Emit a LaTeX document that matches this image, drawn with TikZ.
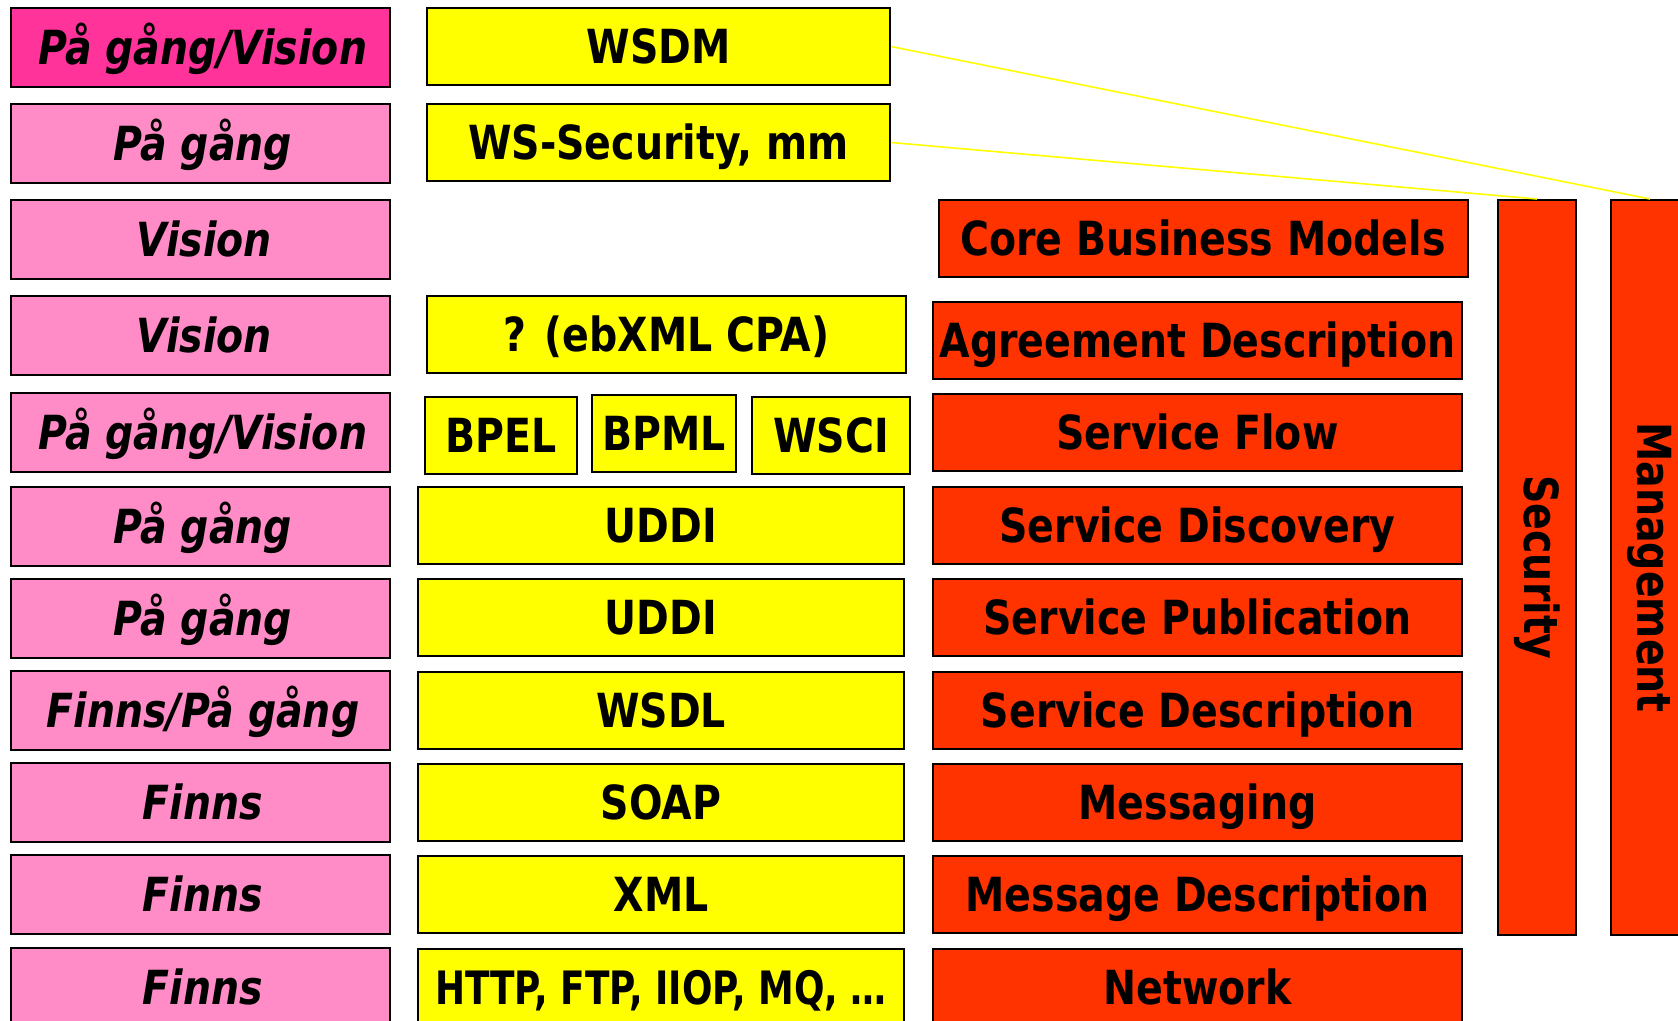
\documentclass[tikz,border=0pt]{standalone}
\usepackage{fontspec}
\newfontfamily\lblfont{DejaVu Sans}[FakeStretch=0.84]
\newfontfamily\lblfontnarrow{DejaVu Sans}[FakeStretch=0.78]
\definecolor{pinkdark}{HTML}{FF3399}
\definecolor{pinklight}{HTML}{FF8CC6}
\definecolor{yel}{HTML}{FFFF00}
\definecolor{org}{HTML}{FF3300}
\tikzset{
  box/.style={draw=black, line width=2pt, inner sep=0pt, align=center,
    font=\lblfont\bfseries\fontsize{47}{47}\selectfont,
    text height=34pt, text depth=0pt},
  pinkbox/.style={box, fill=pinklight, minimum width=379pt, minimum height=79pt,
    font=\lblfont\bfseries\itshape\fontsize{47}{47}\selectfont},
  pinkboxdark/.style={pinkbox, fill=pinkdark},
  yelbox/.style={box, fill=yel, minimum height=77pt},
  orgbox/.style={box, fill=org, minimum height=77pt, minimum width=529pt},
  vbox/.style={draw=black, line width=2pt, fill=org, minimum width=78pt, minimum height=735pt, inner sep=0pt},
  vtext/.style={rotate=-90, font=\lblfont\bfseries\fontsize{47}{47}\selectfont, inner sep=0pt},
  link/.style={draw=yel, line width=1.6pt}
}
\begin{document}
\begin{tikzpicture}[x=1pt, y=-1pt]
\useasboundingbox (0,0) rectangle (1678,1020);
\clip (0,0) rectangle (1678,1020);
% status column
\node[pinkboxdark] (p1) at (200,47.5) {\kern6pt På gång/Vision};
\node[pinkbox] (p2) at (200,143.5) {\kern6pt På gång};
\node[pinkbox] (p3) at (200,239) {\kern8pt Vision};
\node[pinkbox] (p4) at (200,335) {\kern8pt Vision};
\node[pinkbox] (p5) at (200,432) {\kern6pt På gång/Vision};
\node[pinkbox] (p6) at (200,526.5) {\kern6pt På gång};
\node[pinkbox] (p7) at (200,618.5) {\kern6pt På gång};
\node[pinkbox] (p8) at (200,710.5) {\kern6pt Finns/På gång};
\node[pinkbox] (p9) at (200,802.5) {\kern6pt Finns};
\node[pinkbox] (p10) at (200,894.5) {\kern6pt Finns};
\node[pinkbox] (p11) at (200,987.5) {\kern6pt Finns};
% standards column
\node[yelbox, minimum width=463pt] (wsdm) at (658.5,46.5) {WSDM};
\node[yelbox, minimum width=463pt] (wssec) at (658.5,142.5) {WS-Security, mm};
\node[yelbox, minimum width=479pt] (ebxml) at (666.5,334.5) {? (ebXML CPA)};
\node[yelbox, minimum width=152pt] (bpel) at (501,435.5) {BPEL};
\node[yelbox, minimum width=144pt] (bpml) at (664,433.5) {BPML};
\node[yelbox, minimum width=158pt] (wsci) at (831,435.5) {WSCI};
\node[yelbox, minimum width=486pt] (uddi1) at (661,525.5) {UDDI};
\node[yelbox, minimum width=486pt] (uddi2) at (661,617.5) {UDDI};
\node[yelbox, minimum width=486pt] (wsdl) at (661,710) {WSDL};
\node[yelbox, minimum width=486pt] (soap) at (661,802) {SOAP};
\node[yelbox, minimum width=486pt] (xml) at (661,894.5) {XML};
\node[yelbox, minimum width=486pt, font=\lblfontnarrow\bfseries\fontsize{46}{46}\selectfont] (http) at (661,987) {HTTP, FTP, IIOP, MQ, \dots};
% layers column
\node[orgbox] (core) at (1203,238.5) {Core Business Models};
\node[orgbox] (agree) at (1197.5,340) {Agreement Description};
\node[orgbox] (flow) at (1197.5,432.5) {Service Flow};
\node[orgbox] (disc) at (1197.5,525.5) {Service Discovery};
\node[orgbox] (publ) at (1197.5,617.5) {Service Publication};
\node[orgbox] (desc) at (1197.5,710) {Service Description};
\node[orgbox] (msg) at (1197.5,802) {Messaging};
\node[orgbox] (msgd) at (1197.5,894.5) {Message Description};
\node[orgbox] (net) at (1197.5,987) {Network};
% vertical columns
\node[vbox] (sec) at (1537,567.5) {};
\node[vtext] at (sec.center) {Security};
\node[vbox] (mgmt) at (1650,567.5) {};
\node[vtext] at (mgmt.center) {Management};
% connectors
\draw[link] (wsdm.east) -- (mgmt.north);
\draw[link] (wssec.east) -- (sec.north);
\end{tikzpicture}
\end{document}
